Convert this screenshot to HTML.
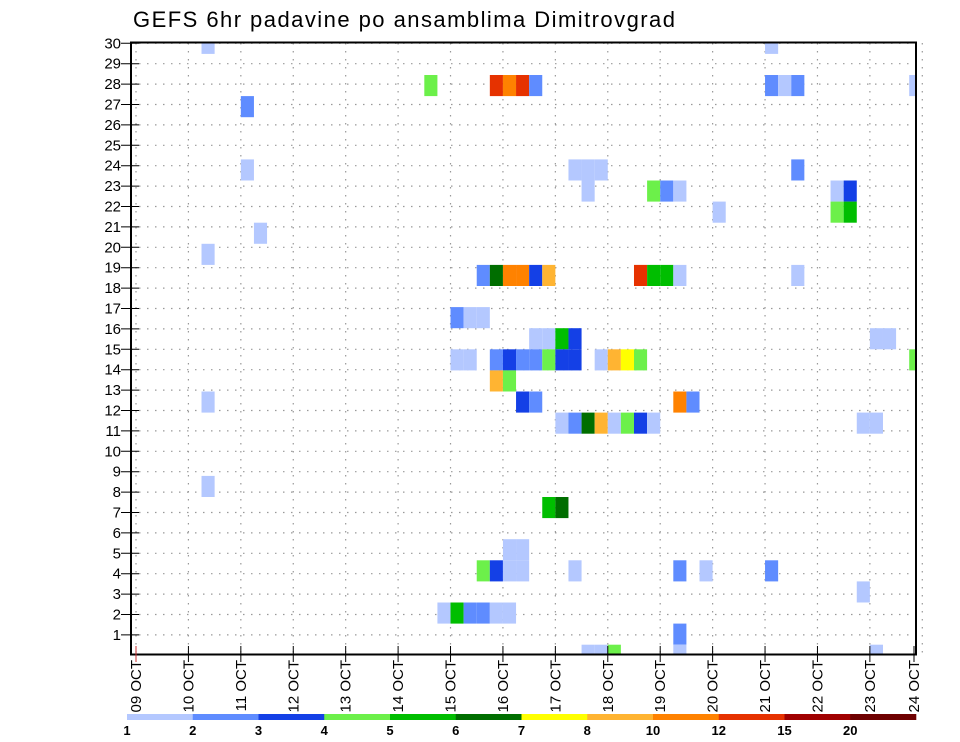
<!DOCTYPE html>
<html><head><meta charset="utf-8"><style>
body{margin:0;background:#fff;}
svg{display:block;font-family:"Liberation Sans",sans-serif;}
</style></head><body>
<svg id="chart" width="960" height="742" viewBox="0 0 960 742" xmlns="http://www.w3.org/2000/svg">
<text x="133" y="27" font-size="22" textLength="542" lengthAdjust="spacing" fill="#000">GEFS 6hr padavine po ansamblima Dimitrovgrad</text>
<defs><clipPath id="plotclip"><rect x="131" y="43" width="785" height="611"/></clipPath></defs>
<g id="grid"></g>
<g id="cells" clip-path="url(#plotclip)"></g>
<rect x="131" y="42.5" width="785" height="612" fill="none" stroke="#000" stroke-width="2"/>
<g id="axes"></g>
<g id="legend"></g>
</svg>
<script>
// data
const dayLabels = ["09 OCT","10 OCT","11 OCT","12 OCT","13 OCT","14 OCT","15 OCT","16 OCT","17 OCT","18 OCT","19 OCT","20 OCT","21 OCT","22 OCT","23 OCT","24 OCT"];
const memberTicks = [1,2,3,4,5,6,7,8,9,10,11,12,13,14,15,16,17,18,19,20,21,22,23,24,25,26,27,28,29,30];
const legendLevels = ["1","2","3","4","5","6","7","8","10","12","15","20"];
const legendColors = ["#b4c8ff","#5f8cff","#1440e6","#6cf04a","#00be00","#006e00","#ffff00","#ffb432","#ff8200","#e63200","#a00000","#6e0000"];
const levelValues = [1,2,3,4,5,6,7,8,10,12,15,20];
// cells: member, 6h-step index from 09 OCT 00Z, precip (mm)
const cellMember = [30,30, 28,28,28,28,28,28,28,28,28, 27, 24,24,24,24,24, 23,23,23,23,23,23, 22,22,22, 21, 20,
 19,19,19,19,19,19,19,19,19,19,19, 17,17,17, 16,16,16,16,16,16,
 15,15,15,15,15,15,15,15,15,15,15,15,15,15, 14,14, 13,13,13,13,13,
 12,12,12,12,12,12,12,12,12,12, 9, 8,8, 6,6, 5,5,5,5,5,5,5,5, 4, 3,3,3,3,3,3, 2, 1,1,1,1,1];
const cellStep = [5,48, 22,27,28,29,30,48,49,50,59, 8, 8,33,34,35,50, 34,39,40,41,53,54, 44,53,54, 9, 5,
 26,27,28,29,30,31,38,39,40,41,50, 24,25,26, 30,31,32,33,56,57,
 24,25,27,28,29,30,31,32,33,35,36,37,38,59, 27,28, 5,29,30,41,42,
 32,33,34,35,36,37,38,39,55,56, 5, 31,32, 28,29, 26,27,28,29,33,41,43,48, 55, 23,24,25,26,27,28, 41, 34,35,36,41,56];
const cellPrecip = [1.5,1.5, 4.5,13,11,13,2.5,2.5,1.5,2.5,1.5, 2.5, 1.5,1.5,1.5,1.5,2.5, 1.5,4.5,2.5,1.5,1.5,3.5, 1.5,4.5,5.5, 1.5, 1.5,
 2.5,6.5,11,11,3.5,9,13,5.5,5.5,1.5,1.5, 2.5,1.5,1.5, 1.5,1.5,5.5,3.5,1.5,1.5,
 1.5,1.5,2.5,3.5,2.5,2.5,4.5,3.5,3.5,1.5,9,7.5,4.5,4.5, 9,4.5, 1.5,3.5,2.5,11,2.5,
 1.5,2.5,6.5,9,1.5,4.5,3.5,1.5,1.5,1.5, 1.5, 5.5,6.5, 1.5,1.5, 4.5,3.5,1.5,1.5,1.5,2.5,1.5,2.5, 1.5, 1.5,5.5,2.5,2.5,1.5,1.5, 2.5, 1.5,1.5,4.5,1.5,1.5];

const NS = "http://www.w3.org/2000/svg";
const X0 = 136, DAY = 52.42, STEP = DAY/4;
const xDay = d => X0 + d*DAY;
const xStep = s => X0 + s*STEP;
const CELLH = 21.1;
const yCellTop = m => 75 + (28-m)*CELLH;
const yGrid = n => 43.3 + (30-n)*20.4;
function colorFor(v){let c=legendColors[0];for(let k=0;k<levelValues.length;k++){if(v>=levelValues[k])c=legendColors[k];}return c;}
function mk(tag, attrs, parent){const e=document.createElementNS(NS,tag);for(const k in attrs)e.setAttribute(k,attrs[k]);parent.appendChild(e);return e;}

const grid=document.getElementById('grid');
memberTicks.forEach(n=>{
  const l=mk('line',{x1:131,x2:916,y1:yGrid(n),y2:yGrid(n),stroke:'#999','stroke-width':1.2,'stroke-dasharray':'1.5 6.5'},grid);
  
  
});
dayLabels.forEach((d,i)=>{
  const l=mk('line',{x1:xDay(i),x2:xDay(i),y1:43,y2:654,stroke:'#999','stroke-width':1.2,'stroke-dasharray':'1.5 6.5'},grid);
  
  
});

const cells=document.getElementById('cells');
cellMember.forEach((m,k)=>{
  const r=mk('rect',{x:xStep(cellStep[k]),y:yCellTop(m),width:STEP,height:CELLH,fill:colorFor(cellPrecip[k])},cells);
  
  
});

const axes=document.getElementById('axes');
memberTicks.forEach(n=>{
  const y=yGrid(n);
  const t=mk('line',{x1:121,x2:139,y1:y,y2:y,stroke:'#000','stroke-width':1},axes);
  
  
  const tx=mk('text',{x:121,y:y+5,'text-anchor':'end','font-size':15,fill:'#000'},axes);
  tx.textContent=n;
  
  
});
dayLabels.forEach((d,i)=>{
  const x=Math.min(xDay(i),914);
  const t=mk('line',{x1:x,x2:x,y1:646,y2:662,stroke:i===0?'#c33':'#000','stroke-width':1},axes);
  
  
  const tx=mk('text',{x:0,y:0,'text-anchor':'end','font-size':15,fill:'#000',transform:`translate(${x+5},660) rotate(-90)`},axes);
  tx.textContent=d;
  
  
});

const leg=document.getElementById('legend');
const LX=127, LW=65.75;
legendColors.forEach((c,k)=>{
  const r=mk('rect',{x:LX+k*LW,y:714,width:LW+0.3,height:6,fill:c},leg);
  
  
});
legendLevels.forEach((s,k)=>{
  const t=mk('text',{x:LX+k*LW,y:735,'text-anchor':'middle','font-size':13,'font-weight':'bold',fill:'#000'},leg);
  t.textContent=s;
  
  
});
</script>
</body></html>
